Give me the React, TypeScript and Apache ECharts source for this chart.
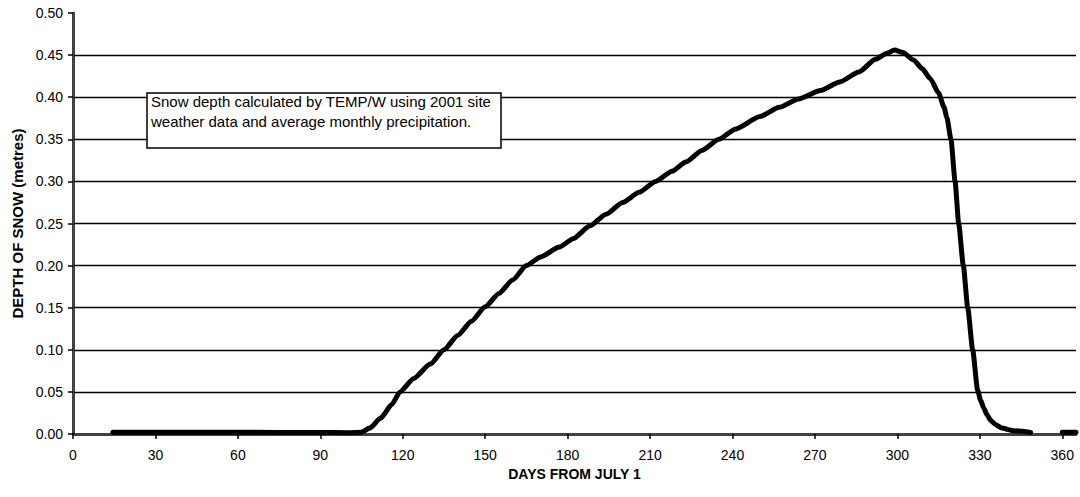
import React, { useEffect, useRef } from "react";
import * as echarts from "echarts";

// Days from July 1 and computed snow depth (metres)
const days: number[] = [
  14.5, 30, 60, 90, 100, 105, 108, 112, 116, 119, 124, 130, 135, 140, 145, 150, 155, 160, 165,
  170, 177, 182, 188, 194, 200, 206, 212, 218, 223, 229, 235, 241, 250, 257, 264, 272, 279,
  286, 292, 296, 299, 302, 306, 309, 312, 315, 317, 318, 319.5, 321, 322.3, 324, 325.6,
  327.4, 329.2, 330.3, 331.4, 332.6, 334, 335.8, 338, 342, 348.5, 354, 360, 365,
];
const depth: (number | null)[] = [
  0.002, 0.002, 0.002, 0.0018, 0.0015, 0.002, 0.007, 0.019, 0.035, 0.05, 0.066, 0.083, 0.1,
  0.117, 0.134, 0.151, 0.167, 0.183, 0.2, 0.21, 0.222, 0.232, 0.247, 0.261, 0.275, 0.287,
  0.3, 0.312, 0.323, 0.337, 0.35, 0.362, 0.377, 0.388, 0.398, 0.408, 0.418, 0.43, 0.445,
  0.452, 0.456, 0.453, 0.444, 0.434, 0.422, 0.405, 0.388, 0.376, 0.35, 0.3, 0.25, 0.2, 0.15,
  0.1, 0.052, 0.04, 0.031, 0.023, 0.016, 0.011, 0.007, 0.004, 0.0018, null, 0.002, 0.002,
];

const xTickValues: number[] = [0, 30, 60, 90, 120, 150, 180, 210, 240, 270, 300, 330, 360];

const xAxisTitle = "DAYS FROM JULY 1";
const yAxisTitle = "DEPTH OF SNOW (metres)";
const noteLines: string[] = [
  "Snow depth calculated by TEMP/W using 2001 site",
  "weather data and average monthly precipitation.",
];

const FONT = "'Liberation Sans', Arial, Helvetica, sans-serif";

export default function App() {
  const ref = useRef<HTMLDivElement>(null);

  useEffect(() => {
    if (!ref.current) return;
    const chart = echarts.init(ref.current, undefined, { renderer: "svg" });
    const seriesData = days.map((d, i) => [d, depth[i] === null ? "-" : depth[i]]);

    chart.setOption({
      animation: false,
      backgroundColor: "#ffffff",
      textStyle: { fontFamily: FONT },
      grid: { left: 73, right: 4, top: 13, bottom: 63, outerBoundsMode: "none" },
      xAxis: [
        {
          type: "value",
          min: 0,
          max: 365,
          interval: 30,
          name: xAxisTitle,
          nameLocation: "middle",
          nameGap: 33,
          nameTextStyle: { color: "#000", fontSize: 14, fontWeight: "bold", fontFamily: FONT },
          axisLine: { show: true, onZero: false, lineStyle: { color: "#000", width: 2.5 } },
          axisTick: {
            show: true,
            length: 5,
            customValues: xTickValues,
            lineStyle: { color: "#000", width: 1.5 },
          },
          axisLabel: {
            customValues: xTickValues,
            color: "#000",
            fontSize: 14,
            fontFamily: FONT,
            margin: 14,
          },
          splitLine: { show: false },
        },
        {
          type: "value",
          position: "top",
          min: 0,
          max: 365,
          axisLine: { show: true, lineStyle: { color: "#555", width: 1, type: "dotted" } },
          axisTick: { show: false },
          axisLabel: { show: false },
          splitLine: { show: false },
        },
      ],
      yAxis: [
        {
          type: "value",
          min: 0,
          max: 0.5,
          interval: 0.05,
          name: yAxisTitle,
          nameLocation: "middle",
          nameGap: 46,
          nameTextStyle: { color: "#000", fontSize: 15, fontWeight: "bold", fontFamily: FONT },
          axisLine: { show: true, lineStyle: { color: "#000", width: 2.5 } },
          axisTick: { show: true, length: 5, lineStyle: { color: "#000", width: 1.5 } },
          axisLabel: {
            color: "#000",
            fontSize: 14,
            fontFamily: FONT,
            margin: 10,
            formatter: (v: number) => v.toFixed(2),
          },
          splitLine: {
            show: true,
            showMinLine: false,
            showMaxLine: false,
            lineStyle: { color: "#000", width: 1.4 },
          },
        },
        {
          type: "value",
          position: "right",
          min: 0,
          max: 0.5,
          axisLine: { show: true, lineStyle: { color: "#555", width: 1, type: "dotted" } },
          axisTick: { show: false },
          axisLabel: { show: false },
          splitLine: { show: false },
        },
      ],
      series: [
        {
          type: "line",
          data: seriesData,
          showSymbol: false,
          smooth: 0.2,
          smoothMonotone: "x",
          connectNulls: false,
          lineStyle: { color: "#000", width: 5, cap: "round", join: "round" },
          z: 5,
        },
      ],
      graphic: [
        {
          type: "rect",
          shape: { x: 147, y: 93, width: 354, height: 55 },
          style: { fill: "#fff", stroke: "#000", lineWidth: 1.5 },
          z: 10,
        },
        {
          type: "text",
          x: 151,
          y: 92,
          z: 11,
          style: {
            text: noteLines.join("\n"),
            fill: "#000",
            fontSize: 15,
            fontFamily: FONT,
            lineHeight: 19.5,
            textVerticalAlign: "top",
          },
        },
      ],
    });

    return () => chart.dispose();
  }, []);

  return (
    <div
      ref={ref}
      style={{ position: "absolute", left: 0, top: 0, width: 1080, height: 497, background: "#fff" }}
    />
  );
}
